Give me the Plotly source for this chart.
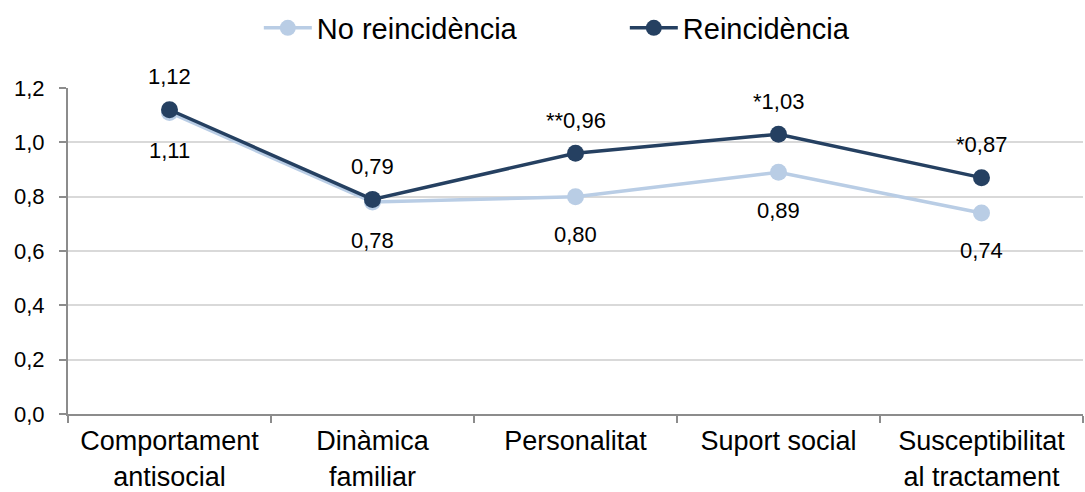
import plotly.graph_objects as go

categories = ["Comportament<br>antisocial", "Dinàmica<br>familiar", "Personalitat",
              "Suport social", "Susceptibilitat<br>al tractament"]
no_reincidencia = [1.11, 0.78, 0.80, 0.89, 0.74]
reincidencia = [1.12, 0.79, 0.96, 1.03, 0.87]
significance = ["", "", "**", "*", "*"]
y_ticks = [0.0, 0.2, 0.4, 0.6, 0.8, 1.0, 1.2]

LIGHT = "#B9CDE5"
DARK = "#254061"
FONT = "Liberation Sans, Arial, sans-serif"


def fmt(v):
    return f"{v:.2f}".replace(".", ",")


fig = go.Figure()
fig.add_trace(go.Scatter(
    x=categories, y=no_reincidencia, name="No reincidència", mode="lines+markers",
    line=dict(color=LIGHT, width=3.5), marker=dict(color=LIGHT, size=17),
))
fig.add_trace(go.Scatter(
    x=categories, y=reincidencia, name="Reincidència", mode="lines+markers",
    line=dict(color=DARK, width=3.5), marker=dict(color=DARK, size=17),
))

annotations = []
for c, v in zip(categories, no_reincidencia):
    annotations.append(dict(x=c, y=v, text=fmt(v), showarrow=False, yshift=-38,
                            font=dict(size=22, color="#000000", family=FONT)))
for c, v, s in zip(categories, reincidencia, significance):
    annotations.append(dict(x=c, y=v, text=s + fmt(v), showarrow=False, yshift=33,
                            font=dict(size=22, color="#000000", family=FONT)))

fig.update_layout(
    width=1085, height=492,
    margin=dict(l=68, r=2, t=88, b=78, autoexpand=False),
    paper_bgcolor="white", plot_bgcolor="white",
    font=dict(family=FONT, color="#000000"),
    separators=", ",
    annotations=annotations,
    showlegend=True,
    legend=dict(orientation="h", x=0.188, xanchor="left", y=1.184, yanchor="middle",
                font=dict(size=29), entrywidth=303, itemwidth=48),
    xaxis=dict(
        type="category", range=[-0.5, 4.5], tickson="boundaries", automargin=False,
        showgrid=False, showline=True, linecolor="#8C8C8C", linewidth=2,
        ticks="outside", ticklen=7, tickcolor="#8C8C8C", tickwidth=2,
        tickfont=dict(size=27), ticklabelstandoff=2, zeroline=False,
    ),
    yaxis=dict(
        range=[0, 1.2], tickvals=y_ticks, tickformat=".1f", automargin=False,
        showgrid=True, gridcolor="#D9D9D9", gridwidth=2,
        showline=True, linecolor="#8C8C8C", linewidth=2,
        ticks="outside", ticklen=7, tickcolor="#8C8C8C", tickwidth=2,
        tickfont=dict(size=22), ticklabelstandoff=10, zeroline=False,
    ),
)

fig.write_html("out.html")
